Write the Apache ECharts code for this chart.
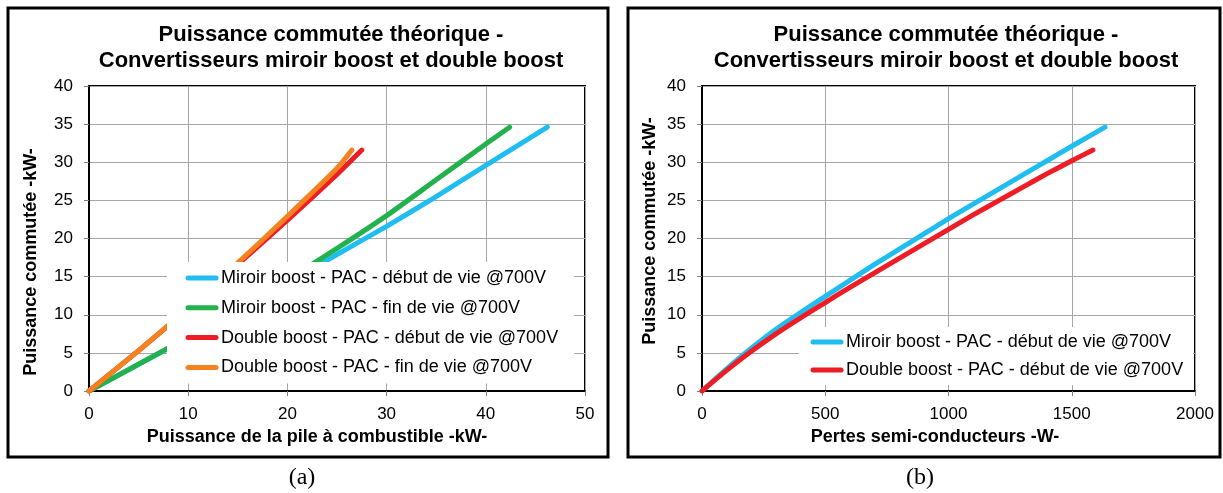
<!DOCTYPE html>
<html>
<head>
<meta charset="utf-8">
<script src="https://cdn.jsdelivr.net/npm/echarts@6/dist/echarts.min.js"></script>
<style>
html,body{margin:0;padding:0;background:#fff;}
#a{position:absolute;left:0;top:0;width:618px;height:493px;}
#b{position:absolute;left:618px;top:0;width:605px;height:493px;}
</style>
</head>
<body>
<div id="a"></div>
<div id="b"></div>
<script>
// ---------- data ----------
const titleText = 'Puissance commutée théorique -\nConvertisseurs miroir boost et double boost';
const yName = 'Puissance commutée -kW-';
const xNameA = 'Puissance de la pile à combustible -kW-';
const xNameB = 'Pertes semi-conducteurs -W-';
const namesA = [
  'Miroir boost - PAC - début de vie @700V',
  'Miroir boost - PAC - fin de vie @700V',
  'Double boost - PAC - début de vie @700V',
  'Double boost - PAC - fin de vie @700V'
];
const namesB = [
  'Miroir boost - PAC - début de vie @700V',
  'Double boost - PAC - début de vie @700V'
];
// chart (a): x = fuel-cell power (kW), y = switched power (kW)
const miroirDebutA = [[0,0],[5,3.5],[10,7],[15,10.6],[20,14.2],[25,17.9],[30,21.6],[35,25.5],[40,29.6],[46.2,34.6]];
const miroirFinA   = [[0,0],[5,3.5],[10,7.1],[15,10.8],[20,14.6],[25,18.7],[30,23],[35,27.7],[40,32.4],[42.4,34.6]];
const doubleDebutA = [[0,0],[5,5.3],[10,10.8],[15,16.6],[20,22.4],[25,28.4],[27.5,31.6]];
const doubleFinA   = [[0,0],[5,5.3],[10,10.9],[15,16.8],[20,22.9],[25,29.2],[26.5,31.6]];
// chart (b): x = semiconductor losses (W), y = switched power (kW)
const miroirDebutB = [[0,0],[100,2.9],[200,5.6],[300,8.1],[400,10.3],[500,12.4],[600,14.5],[700,16.6],[800,18.6],[900,20.6],[1000,22.6],[1100,24.5],[1200,26.4],[1300,28.3],[1400,30.2],[1500,32.1],[1635,34.6]];
const doubleDebutB = [[0,0],[100,2.7],[200,5.2],[300,7.5],[400,9.6],[500,11.6],[600,13.6],[700,15.5],[800,17.4],[900,19.3],[1000,21.2],[1100,23.1],[1200,24.9],[1300,26.7],[1400,28.5],[1500,30.2],[1586,31.6]];
const captionA = '(a)';
const captionB = '(b)';

// ---------- styles ----------
const FONT = 'Liberation Sans, Arial, sans-serif';
const C_CYAN = '#1FBDF0', C_GREEN = '#22B14C', C_RED = '#EE1D25', C_ORANGE = '#F5821F';

function lineSeries(name, data, color) {
  return {
    type: 'line', name: name, data: data, smooth: 0.2,
    symbol: 'none', showSymbol: false,
    color: color,
    lineStyle: { color: color, width: 5, cap: 'round', join: 'round' },
    itemStyle: { color: color },
    z: 2
  };
}

function axisCommon(min, max, interval) {
  return {
    type: 'value', min: min, max: max, interval: interval,
    axisLine: { show: true, onZero: false, lineStyle: { color: '#000', width: 2 } },
    axisTick: { show: true, inside: false, length: 5, lineStyle: { color: '#808080', width: 1 } },
    splitLine: { show: true, lineStyle: { color: '#A6A6A6', width: 1 } },
    axisLabel: { color: '#000', fontFamily: FONT, fontSize: 17, formatter: function (v) { return String(v); } }
  };
}

function buildOption(cfg) {
  const xa = axisCommon(cfg.xMin, cfg.xMax, cfg.xInt);
  xa.axisLabel.margin = 15;
  const ya = axisCommon(0, 40, 5);
  ya.axisLabel.margin = 16;
  return {
    animation: false,
    backgroundColor: '#fff',
    title: {
      text: titleText, left: cfg.titleX, top: 22, textAlign: 'center', padding: 0,
      textStyle: { fontFamily: FONT, fontSize: 22, fontWeight: 'bold', color: '#000', lineHeight: 26 }
    },
    grid: {
      left: cfg.gridLeft, top: 86, width: cfg.gridWidth, height: 305,
      show: true, borderColor: '#000', borderWidth: 2, backgroundColor: 'transparent'
    },
    xAxis: xa,
    yAxis: ya,
    legend: {
      data: cfg.names, orient: 'vertical',
      left: cfg.legLeft, top: cfg.legTop,
      padding: cfg.legPad, itemGap: cfg.legGap,
      itemWidth: 28, itemHeight: 14,
      backgroundColor: '#fff', borderWidth: 0,
      lineStyle: { width: 5, cap: 'round' },
      itemStyle: { opacity: 0 },
      textStyle: { fontFamily: FONT, fontSize: 18, color: '#000' },
      selectedMode: false, z: 4
    },
    series: cfg.series,
    graphic: [
      { type: 'rect', shape: cfg.box, style: { fill: 'none', stroke: '#000', lineWidth: 3 }, z: 10, silent: true },
      { type: 'text', x: cfg.yNameX, y: cfg.yNameY, rotation: Math.PI / 2,
        style: { text: yName, align: 'center', verticalAlign: 'middle', font: 'bold 18px ' + FONT, fill: '#000' } },
      { type: 'text', x: cfg.xNameX, y: 437,
        style: { text: cfg.xName, align: 'center', verticalAlign: 'middle', font: 'bold 18px ' + FONT, fill: '#000' } },
      { type: 'text', x: cfg.capX, y: 478,
        style: { text: cfg.caption, align: 'center', verticalAlign: 'middle', font: '24px Liberation Serif, Times New Roman, serif', fill: '#000' } }
    ]
  };
}

const chartA = echarts.init(document.getElementById('a'));
chartA.setOption(buildOption({
  titleX: 331, gridLeft: 89, gridWidth: 496,
  xMin: 0, xMax: 50, xInt: 10,
  names: namesA, legLeft: 167, legTop: 262, legPad: [7, 16, 7, 18.5], legGap: 11.8,
  series: [
    lineSeries(namesA[0], miroirDebutA, C_CYAN),
    lineSeries(namesA[1], miroirFinA, C_GREEN),
    lineSeries(namesA[2], doubleDebutA, C_RED),
    lineSeries(namesA[3], doubleFinA, C_ORANGE)
  ],
  box: { x: 8, y: 8, width: 600, height: 449 },
  yNameX: 31, yNameY: 262, xNameX: 317, xName: xNameA,
  capX: 302, caption: captionA
}));

const chartB = echarts.init(document.getElementById('b'));
chartB.setOption(buildOption({
  titleX: 328, gridLeft: 84, gridWidth: 493,
  xMin: 0, xMax: 2000, xInt: 500,
  names: namesB, legLeft: 181, legTop: 327, legPad: [6, 10, 6, 11.5], legGap: 10,
  series: [
    lineSeries(namesB[0], miroirDebutB, C_CYAN),
    lineSeries(namesB[1], doubleDebutB, C_RED)
  ],
  box: { x: 10, y: 8, width: 592, height: 449 },
  yNameX: 32, yNameY: 231, xNameX: 317, xName: xNameB,
  capX: 302, caption: captionB
}));
</script>
</body>
</html>
